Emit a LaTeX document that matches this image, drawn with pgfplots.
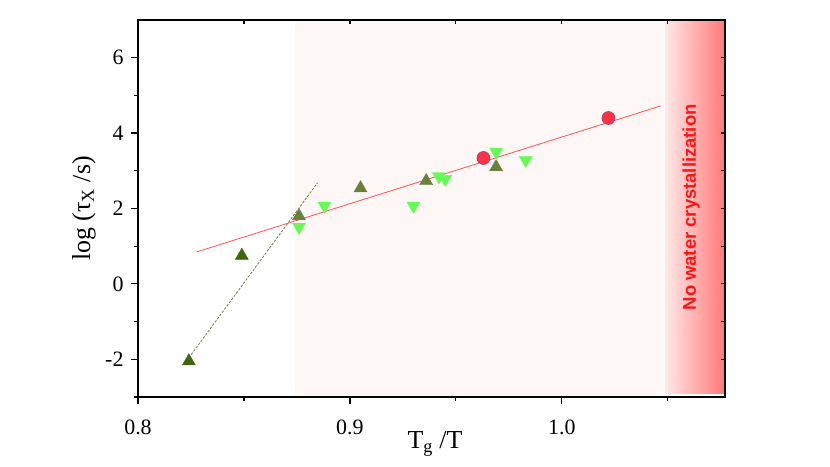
\documentclass[border=0pt]{standalone}
\usepackage{pgfplots}
\pgfplotsset{compat=1.18}
\usepackage{fontspec}
\setmainfont{Liberation Serif}
\newfontfamily\labelsans{Liberation Sans}
\definecolor{darkgreen}{RGB}{64,102,13}
\definecolor{olivegreen}{RGB}{107,128,60}
\definecolor{lightgreen}{RGB}{102,250,85}
\definecolor{redcirc}{RGB}{255,51,68}
\definecolor{rededge}{RGB}{170,50,120}
\definecolor{fitred}{RGB}{255,80,80}
\definecolor{paleback}{RGB}{253,248,245}
\definecolor{bandleft}{RGB}{255,232,232}
\definecolor{bandright}{RGB}{255,120,120}
\definecolor{textred}{RGB}{255,20,20}
\begin{document}
\begin{tikzpicture}
\path[use as bounding box] (0,0) rectangle (830bp,467bp);
\begin{axis}[at={(138bp,70bp)}, anchor=south west, scale only axis,
  width=587bp, height=377bp,
  xmin=0.8, xmax=1.077, ymin=-3, ymax=7,
  xtick={0.8,0.9,1.0}, minor xtick={0.85,0.95,1.05},
  ytick={-2,0,2,4,6}, minor ytick={-3,-1,1,3,5},
  tick pos=left, tick align=outside,
  major tick length=7bp, minor tick length=4bp,
  axis line style={line width=1.3bp},
  every tick/.style={line width=1.2bp, black},
  /pgf/number format/assume math mode=true,
  xticklabel style={/pgf/number format/fixed, /pgf/number format/fixed zerofill, /pgf/number format/precision=1, yshift=-12bp},
  yticklabel style={xshift=-4bp},
  ticklabel style={font=\fontsize{22}{24}\selectfont},
  label style={font=\fontsize{26}{28}\selectfont},
  xlabel={T\textsubscript{g} /T},
  ylabel={log (τ\textsubscript{X} /s)},
  xlabel style={at={(axis description cs:0.506,-0.124)}, anchor=center},
  ylabel style={at={(axis description cs:-0.092,0.5)}, anchor=center},
  axis on top, clip=true]
\fill[paleback] (axis cs:0.874,-3) rectangle (axis cs:1.048,7);
\fill[left color=bandleft, right color=bandright] (axis cs:1.0488,-2.9) rectangle (axis cs:1.077,7);
\addplot[fitred, line width=0.8bp, no marks] coordinates {(0.8278,0.85) (1.0466,4.72)};
\addplot[olivegreen, line width=0.8bp, dash pattern=on 2.5bp off 1.5bp, no marks] coordinates {(0.824,-1.96) (0.8847,2.68)};
\addplot[only marks, mark=triangle*, mark size=7.5bp, mark options={fill=darkgreen, draw=darkgreen}] coordinates {
(0.824,-2.05) (0.849,0.75)};
\addplot[only marks, mark=triangle*, mark size=7.5bp, mark options={fill=olivegreen, draw=olivegreen}] coordinates {
(0.876,1.80) (0.905,2.54) (0.936,2.73) (0.969,3.10)};
\addplot[only marks, mark=triangle*, mark size=7.5bp, mark options={fill=lightgreen, draw=lightgreen, rotate=180}] coordinates {
(0.876,1.51) (0.888,2.07) (0.930,2.07) (0.942,2.85) (0.945,2.78) (0.969,3.50) (0.983,3.28)};
\addplot[only marks, mark=*, mark size=6.5bp, mark options={fill=redcirc, draw=rededge, line width=0.6bp}] coordinates {
(0.963,3.34) (1.022,4.40)};
\node[rotate=90, text=textred, font=\labelsans\bfseries\fontsize{18.5}{20}\selectfont] at (axis cs:1.061,2.03) {No water crystallization};
\end{axis}
\begin{axis}[at={(138bp,70bp)}, anchor=south west, scale only axis,
  width=587bp, height=377bp,
  xmin=0.8, xmax=1.077, ymin=-3, ymax=7,
  xtick={0.8,0.9,1.0}, minor xtick={0.85,0.95,1.05},
  ytick={-2,0,2,4,6}, minor ytick={-3,-1,1,3,5},
  tick pos=right, tick align=inside,
  major tick length=4.5bp, minor tick length=4bp,
  axis line style={line width=1.3bp},
  every tick/.style={line width=1.2bp, black},
  xticklabels={}, yticklabels={}]
\end{axis}
\end{tikzpicture}
\end{document}
